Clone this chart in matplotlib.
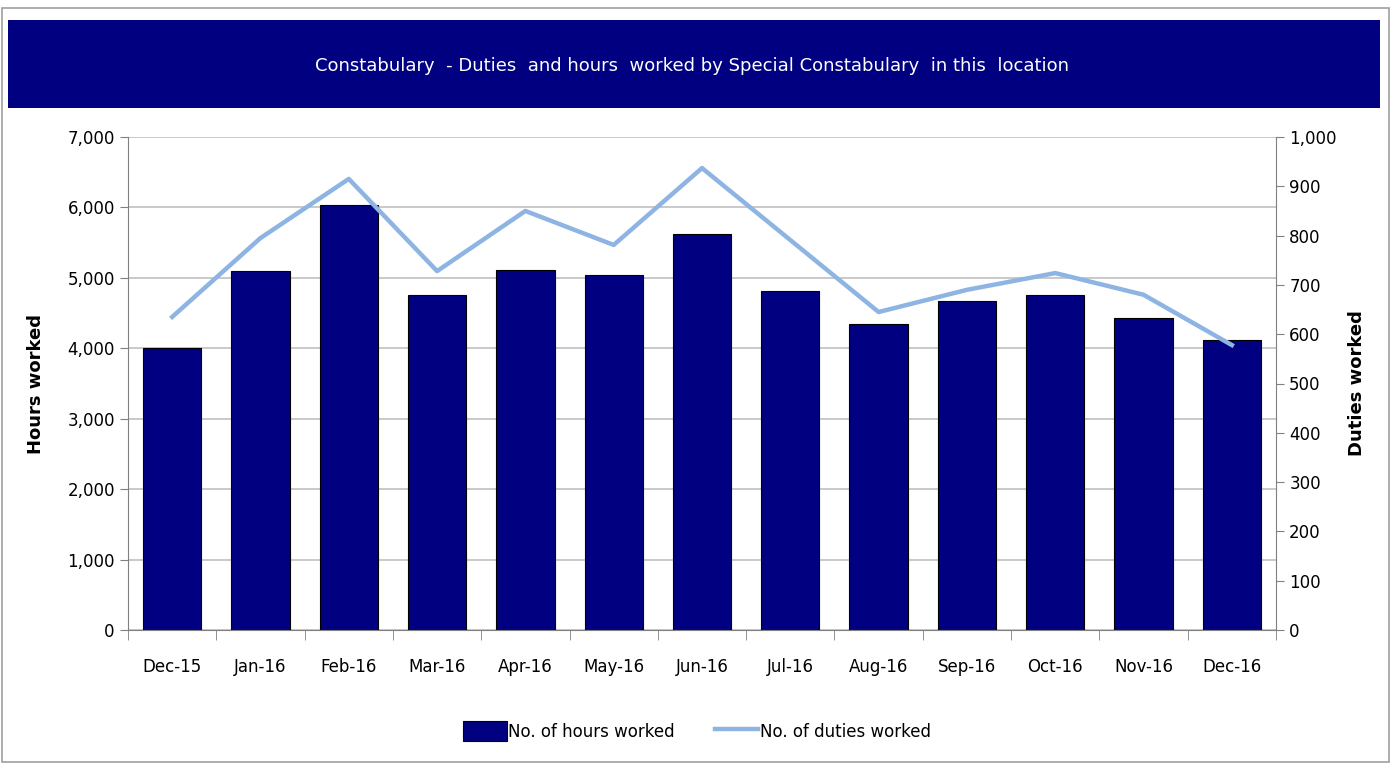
import numpy as np
import matplotlib.pyplot as plt
from matplotlib.patches import Rectangle
from matplotlib.ticker import FuncFormatter

# dane
miesiace = ['Dec-15', 'Jan-16', 'Feb-16', 'Mar-16', 'Apr-16', 'May-16', 'Jun-16',
            'Jul-16', 'Aug-16', 'Sep-16', 'Oct-16', 'Nov-16', 'Dec-16']
godziny = [4000, 5100, 6030, 4760, 5110, 5040, 5620, 4810, 4340, 4670, 4760, 4430, 4120]
dyzury = [635, 795, 915, 728, 850, 781, 937, 791, 645, 690, 724, 680, 578]

granat = '#000080'
niebieski = '#8DB4E2'

plt.rcParams['font.family'] = ['DejaVu Sans']

fig = plt.figure(figsize=(13.91, 7.63), dpi=100)

# ramka zewnętrzna
fig.patches.append(Rectangle((2 / 1391, 1 - 762 / 763), 1387 / 1391, 754 / 763,
                             transform=fig.transFigure, fill=False,
                             edgecolor='#A0A0A0', linewidth=1.2))
# pasek tytułu
fig.patches.append(Rectangle((8 / 1391, 1 - 108 / 763), 1372 / 1391, 88 / 763,
                             transform=fig.transFigure, facecolor=granat,
                             edgecolor='none'))
fig.text(692 / 1391, 1 - 66 / 763,
         'Constabulary  - Duties  and hours  worked by Special Constabulary  in this  location',
         color='white', fontsize=13, ha='center', va='center')

ax = fig.add_axes([128 / 1391, 1 - 630 / 763, 1148 / 1391, 493 / 763])
x = np.arange(len(miesiace))
ax.bar(x, godziny, width=0.66, color=granat, edgecolor='black', linewidth=0.8,
       label='No. of hours worked', zorder=2)
ax.set_xlim(-0.5, len(miesiace) - 0.5)
ax.set_ylim(0, 7000)
ax.set_yticks(range(0, 7001, 1000))
ax.yaxis.set_major_formatter(FuncFormatter(lambda v, p: f'{int(v):,}'))
ax.set_xticks(x)
ax.set_xticklabels(miesiace, fontsize=12)
ax.set_xticks(np.arange(-0.5, len(miesiace), 1), minor=True)
ax.tick_params(axis='x', which='major', length=0, pad=20)
ax.tick_params(axis='x', which='minor', length=7, color='#808080')
ax.tick_params(axis='y', length=6, color='#808080', labelsize=12)
ax.grid(axis='y', color='#C0C0C0', linewidth=1.2, zorder=0)
ax.set_axisbelow(True)
for s in ['top', 'right']:
    ax.spines[s].set_visible(False)
for s in ['left', 'bottom']:
    ax.spines[s].set_color('#808080')
ax.set_ylabel('Hours worked', fontsize=13, fontweight='heavy', labelpad=16)

ax2 = ax.twinx()
ax2.plot(x, dyzury, color=niebieski, linewidth=3.2, label='No. of duties worked', zorder=3)
ax2.set_ylim(0, 1000)
ax2.set_yticks(range(0, 1001, 100))
ax2.yaxis.set_major_formatter(FuncFormatter(lambda v, p: f'{int(v):,}'))
ax2.tick_params(axis='y', length=6, color='#808080', labelsize=12)
for s in ['top', 'left', 'bottom']:
    ax2.spines[s].set_visible(False)
ax2.spines['right'].set_color('#808080')
ax2.set_ylabel('Duties worked', fontsize=13, fontweight='heavy', rotation=90, labelpad=8)

h1, l1 = ax.get_legend_handles_labels()
h2, l2 = ax2.get_legend_handles_labels()
fig.legend(h1 + h2, l1 + l2, loc='center', bbox_to_anchor=(697 / 1391, 1 - 731 / 763),
           ncol=2, frameon=False, fontsize=12, handlelength=2.6, handleheight=1.4,
           handletextpad=0.1, columnspacing=2.4)

fig.savefig('out.png', dpi=100)
